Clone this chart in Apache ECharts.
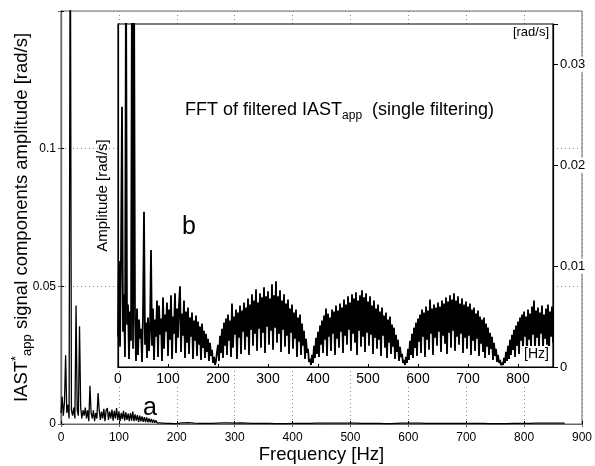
<!DOCTYPE html>
<html>
<head>
<meta charset="utf-8">
<script src="https://cdn.jsdelivr.net/npm/echarts@6/dist/echarts.min.js"></script>
<style>
html,body{margin:0;padding:0;background:#fff;}
#chart{width:595px;height:466px;}
</style>
</head>
<body>
<div id="chart"></div>
<script>
// ---- Main spectrum (a): 0-200 Hz at 2 Hz bins, rad/s ----
const mainLowStepHz = 2;
const mainLowAmp = [
0.0040,0.0100,0.0030,0.0080,0.0250,0.0040,0.0070,0.0020,0.2000,0.0050,
0.0030,0.0060,0.0020,0.0430,0.0050,0.0030,0.0355,0.0060,0.0020,0.0050,
0.0030,0.0060,0.0020,0.0050,0.0010,0.0139,0.0040,0.0020,0.0050,0.0010,
0.0040,0.0020,0.0112,0.0050,0.0015,0.0045,0.0020,0.0055,0.0010,0.0050,
0.0058,0.0015,0.0045,0.0020,0.0052,0.0012,0.0048,0.0020,0.0058,0.0015,
0.0045,0.0010,0.0040,0.0018,0.0048,0.0012,0.0042,0.0015,0.0038,0.0010,
0.0040,0.0012,0.0045,0.0010,0.0035,0.0012,0.0032,0.0008,0.0030,0.0010,
0.0028,0.0008,0.0025,0.0007,0.0024,0.0006,0.0020,0.0006,0.0018,0.0005,
0.0015,0.0005,0.0013,0.0004,0.0011,0.0004,0.0009,0.0003,0.0007,0.0003,
0.0006,0.0002,0.0005,0.0002,0.0004,0.0002,0.0003,0.0001,0.0003,0.0001,
0.0002
];
// ---- Main spectrum (a): 210-870 Hz at 10 Hz spacing ----
const mainTailStartHz = 210;
const mainTailStepHz = 10;
const mainTailAmp = [
0.0004,0.0005,0.0003,0.0002,0.0002,0.0002,0.0003,0.0004,0.0004,0.0003,
0.0004,0.0003,0.0002,0.0002,0.0002,0.0002,0.0001,0.0001,0.0001,0.0002,
0.0002,0.0002,0.0002,0.0003,0.0003,0.0003,0.0003,0.0003,0.0003,0.0003,
0.0003,0.0002,0.0002,0.0002,0.0002,0.0001,0.0001,0.0002,0.0003,0.0003,
0.0003,0.0003,0.0002,0.0002,0.0002,0.0002,0.0002,0.0002,0.0002,0.0002,
0.0002,0.0002,0.0002,0.0001,0.0001,0.0001,0.0001,0.0002,0.0002,0.0002,
0.0002,0.0003,0.0003,0.0003,0.0003,0.0003,0.0003
];
// ---- Inset spectrum (b): filtered, 0-870 Hz at 2 Hz bins ----
const insetStepHz = 2;
const insetAmp = [
0.0030,0.0105,0.0020,0.0110,0.0258,0.0035,0.0072,0.0010,0.0400,0.0042,
0.0062,0.0008,0.0055,0.0026,0.0400,0.0018,0.0400,0.0050,0.0006,0.0058,
0.0012,0.0047,0.0028,0.0038,0.0005,0.0052,0.0154,0.0022,0.0044,0.0009,
0.0049,0.0016,0.0036,0.0116,0.0021,0.0058,0.0007,0.0047,0.0030,0.0066,
0.0010,0.0061,0.0032,0.0048,0.0006,0.0069,0.0018,0.0052,0.0035,0.0064,
0.0011,0.0057,0.0027,0.0071,0.0008,0.0050,0.0033,0.0073,0.0014,0.0058,
0.0029,0.0062,0.0080,0.0015,0.0053,0.0031,0.0066,0.0009,0.0055,0.0024,
0.0059,0.0013,0.0049,0.0030,0.0054,0.0008,0.0046,0.0026,0.0051,0.0011,
0.0045,0.0022,0.0040,0.0007,0.0043,0.0019,0.0036,0.0009,0.0033,0.0015,
0.0028,0.0006,0.0024,0.0011,0.0017,0.0004,0.0010,0.0002,0.0006,0.0015,
0.0022,0.0006,0.0031,0.0014,0.0038,0.0009,0.0044,0.0021,0.0048,0.0012,
0.0052,0.0026,0.0046,0.0010,0.0063,0.0019,0.0050,0.0032,0.0057,0.0008,
0.0054,0.0029,0.0061,0.0013,0.0056,0.0035,0.0064,0.0017,0.0059,0.0030,
0.0068,0.0012,0.0062,0.0037,0.0072,0.0021,0.0066,0.0033,0.0077,0.0016,
0.0064,0.0038,0.0073,0.0019,0.0069,0.0034,0.0079,0.0014,0.0070,0.0040,
0.0075,0.0022,0.0068,0.0036,0.0082,0.0017,0.0071,0.0039,0.0085,0.0024,
0.0070,0.0033,0.0076,0.0015,0.0066,0.0037,0.0072,0.0020,0.0063,0.0031,
0.0067,0.0013,0.0058,0.0034,0.0062,0.0018,0.0054,0.0028,0.0057,0.0010,
0.0049,0.0025,0.0052,0.0012,0.0043,0.0021,0.0036,0.0008,0.0028,0.0014,
0.0018,0.0005,0.0008,0.0002,0.0012,0.0004,0.0021,0.0009,0.0029,0.0013,
0.0035,0.0010,0.0041,0.0022,0.0046,0.0014,0.0051,0.0027,0.0058,0.0011,
0.0053,0.0030,0.0049,0.0016,0.0057,0.0033,0.0055,0.0012,0.0061,0.0028,
0.0056,0.0019,0.0063,0.0035,0.0059,0.0014,0.0067,0.0031,0.0062,0.0022,
0.0070,0.0037,0.0064,0.0016,0.0072,0.0033,0.0068,0.0024,0.0074,0.0012,
0.0066,0.0036,0.0071,0.0020,0.0076,0.0030,0.0069,0.0015,0.0073,0.0034,
0.0065,0.0021,0.0070,0.0032,0.0061,0.0013,0.0066,0.0029,0.0058,0.0018,
0.0062,0.0027,0.0055,0.0011,0.0059,0.0031,0.0051,0.0019,0.0054,0.0009,
0.0047,0.0024,0.0050,0.0013,0.0042,0.0020,0.0039,0.0008,0.0032,0.0015,
0.0027,0.0006,0.0020,0.0010,0.0013,0.0004,0.0007,0.0002,0.0010,0.0004,
0.0018,0.0007,0.0026,0.0012,0.0033,0.0009,0.0039,0.0019,0.0044,0.0011,
0.0048,0.0025,0.0052,0.0014,0.0057,0.0030,0.0054,0.0010,0.0060,0.0027,
0.0056,0.0017,0.0067,0.0033,0.0058,0.0012,0.0062,0.0029,0.0059,0.0021,
0.0064,0.0035,0.0060,0.0015,0.0066,0.0031,0.0063,0.0023,0.0069,0.0013,
0.0065,0.0034,0.0071,0.0019,0.0067,0.0036,0.0073,0.0016,0.0066,0.0030,
0.0070,0.0022,0.0063,0.0033,0.0068,0.0014,0.0062,0.0029,0.0065,0.0018,
0.0060,0.0031,0.0063,0.0012,0.0057,0.0026,0.0059,0.0016,0.0053,0.0028,
0.0056,0.0011,0.0050,0.0023,0.0047,0.0015,0.0049,0.0009,0.0043,0.0020,
0.0039,0.0012,0.0034,0.0018,0.0030,0.0007,0.0024,0.0011,0.0018,0.0005,
0.0012,0.0004,0.0007,0.0002,0.0004,0.0002,0.0009,0.0004,0.0015,0.0006,
0.0021,0.0008,0.0027,0.0012,0.0032,0.0017,0.0037,0.0010,0.0041,0.0021,
0.0045,0.0013,0.0049,0.0026,0.0052,0.0016,0.0055,0.0030,0.0050,0.0012,
0.0057,0.0027,0.0053,0.0018,0.0060,0.0032,0.0066,0.0015,0.0056,0.0029,
0.0059,0.0020,0.0054,0.0033,0.0061,0.0017,0.0052,0.0028,0.0058,0.0022,
0.0062,0.0014,0.0055,0.0030,0.0060,0.0024
];
// ---- Axis ticks ----
const mainXTicks = [0,100,200,300,400,500,600,700,800,900];
const mainYTicks = [0,0.05,0.1];
const insetXTicks = [0,100,200,300,400,500,600,700,800];
const insetYTicks = [0,0.01,0.02,0.03];

const FONT = '"Liberation Sans", Arial, Helvetica, sans-serif';

const mainData = [];
mainLowAmp.forEach((v, i) => mainData.push([i * mainLowStepHz, v]));
mainTailAmp.forEach((v, i) => mainData.push([mainTailStartHz + i * mainTailStepHz, v]));
const insetData = insetAmp.map((v, i) => [i * insetStepHz, v]);

function tickFmt(list) {
  return function (v) {
    for (const t of list) { if (Math.abs(t - v) < 1e-9) return String(t); }
    return '';
  };
}

const chart = echarts.init(document.getElementById('chart'), null, {renderer: 'canvas'});
const dotted = {show: true, lineStyle: {color: '#8a8a8a', type: [1, 3], width: 1}};

chart.setOption({
  animation: false,
  backgroundColor: '#fff',
  textStyle: {fontFamily: FONT},
  grid: [
    {left: 61, top: 11, right: 13, bottom: 42, containLabel: false, outerBoundsMode: 'none',
     show: true, borderColor: '#666', borderWidth: 1, backgroundColor: 'transparent', z: 0},
    {left: 118, top: 24, right: 42, bottom: 99, containLabel: false, outerBoundsMode: 'none',
     show: true, borderColor: '#000', borderWidth: 1.2, backgroundColor: '#fff', z: 1}
  ],
  xAxis: [
    {gridIndex: 0, type: 'value', min: 0, max: 900, interval: 100, position: 'bottom', z: 0,
     nameMoveOverlap: false,
     axisLine: {lineStyle: {color: '#000', width: 1.2}},
     axisTick: {inside: true, length: 3, lineStyle: {color: '#000'}},
     axisLabel: {fontSize: 12, color: '#000', margin: 8, fontFamily: FONT, formatter: tickFmt(mainXTicks)},
     splitLine: dotted,
     name: 'Frequency [Hz]', nameLocation: 'middle', nameGap: 21,
     nameTextStyle: {fontSize: 18.5, color: '#000', fontFamily: FONT}},
    {gridIndex: 0, type: 'value', min: 0, max: 900, interval: 100, position: 'top', z: 0,
     axisLine: {lineStyle: {color: '#666'}},
     axisTick: {inside: true, length: 3, lineStyle: {color: '#666'}},
     axisLabel: {show: false}, splitLine: {show: false}},
    {gridIndex: 1, type: 'value', min: 0, max: 870, interval: 100, position: 'bottom', z: 3,
     axisLine: {lineStyle: {color: '#000', width: 1.2}},
     axisTick: {show: true, inside: true, length: 3, lineStyle: {color: '#000'}},
     axisLabel: {fontSize: 14, color: '#000', margin: 5, fontFamily: FONT, backgroundColor: '#fff', formatter: tickFmt(insetXTicks)},
     splitLine: {show: false}}
  ],
  yAxis: [
    {gridIndex: 0, type: 'value', min: 0, max: 0.15, interval: 0.05, position: 'left', z: 0,
     nameMoveOverlap: false,
     axisLine: {lineStyle: {color: '#000', width: 1.2}},
     axisTick: {inside: true, length: 3, lineStyle: {color: '#000'}},
     axisLabel: {fontSize: 12, color: '#000', margin: 5, fontFamily: FONT, formatter: tickFmt(mainYTicks)},
     splitLine: dotted,
     name: '{t|IAST}{sup|*}{sub|app}{t| signal components amplitude [rad/s]}',
     nameLocation: 'middle', nameGap: 27,
     nameTextStyle: {color: '#000', fontFamily: FONT, fontSize: 18.5, lineHeight: 24,
       rich: {
         t: {fontSize: 18.5, fontFamily: FONT, color: '#000'},
         sup: {fontSize: 13, fontFamily: FONT, color: '#000', verticalAlign: 'top', lineHeight: 12},
         sub: {fontSize: 13, fontFamily: FONT, color: '#000', verticalAlign: 'bottom', lineHeight: 12}
       }}},
    {gridIndex: 0, type: 'value', min: 0, max: 0.15, interval: 0.05, position: 'right', z: 0,
     axisLine: {lineStyle: {color: '#666'}},
     axisTick: {inside: true, length: 3, lineStyle: {color: '#666'}},
     axisLabel: {show: false}, splitLine: {show: false}},
    {gridIndex: 1, type: 'value', min: 0, max: 0.034, position: 'left', z: 3,
     nameMoveOverlap: false,
     axisLine: {lineStyle: {color: '#000', width: 1.2}},
     axisTick: {show: false}, axisLabel: {show: false}, splitLine: {show: false},
     name: 'Amplitude [rad/s]', nameLocation: 'middle', nameGap: 8,
     nameTextStyle: {fontSize: 15, color: '#000', fontFamily: FONT}},
    {gridIndex: 1, type: 'value', min: 0, max: 0.034, interval: 0.01, position: 'right', z: 3,
     axisLine: {lineStyle: {color: '#000', width: 1.2}},
     axisTick: {show: true, inside: false, length: 5, lineStyle: {color: '#000'}},
     axisLabel: {fontSize: 13, color: '#000', margin: 7, fontFamily: FONT, backgroundColor: '#fff', padding: [1, 1, 1, 0], formatter: tickFmt(insetYTicks)},
     splitLine: {show: false}}
  ],
  series: [
    {type: 'line', xAxisIndex: 0, yAxisIndex: 0, data: mainData, symbol: 'none', clip: true, z: 2,
     lineStyle: {color: '#000', width: 1.3}},
    {type: 'line', xAxisIndex: 2, yAxisIndex: 2, data: insetData, symbol: 'none', clip: true, z: 4,
     lineStyle: {color: '#000', width: 1.8}}
  ],
  graphic: [
    {type: 'text', left: 185, top: 101, z: 10,
     style: {text: '{t|FFT of filtered IAST}{sub|app}{t|  (single filtering)}', fill: '#000',
       rich: {
         t: {fontSize: 18, fontFamily: FONT, fill: '#000', lineHeight: 24, verticalAlign: 'middle'},
         sub: {fontSize: 12, fontFamily: FONT, fill: '#000', lineHeight: 11, verticalAlign: 'bottom'}
       }}},
    {type: 'text', left: 182, top: 215, z: 10, style: {text: 'b', fontSize: 25, fontFamily: FONT, fill: '#000'}},
    {type: 'text', left: 143, top: 396, z: 10, style: {text: 'a', fontSize: 25, fontFamily: FONT, fill: '#000'}},
    {type: 'text', right: 46, top: 26, z: 10, style: {text: '[rad/s]', fontSize: 13, fontFamily: FONT, fill: '#000'}},
    {type: 'text', right: 44, top: 346, z: 10, style: {text: '[Hz]', fontSize: 14, fontFamily: FONT, fill: '#000', backgroundColor: '#fff', padding: [1, 2, 2, 2]}}
  ]
});
</script>
</body>
</html>
